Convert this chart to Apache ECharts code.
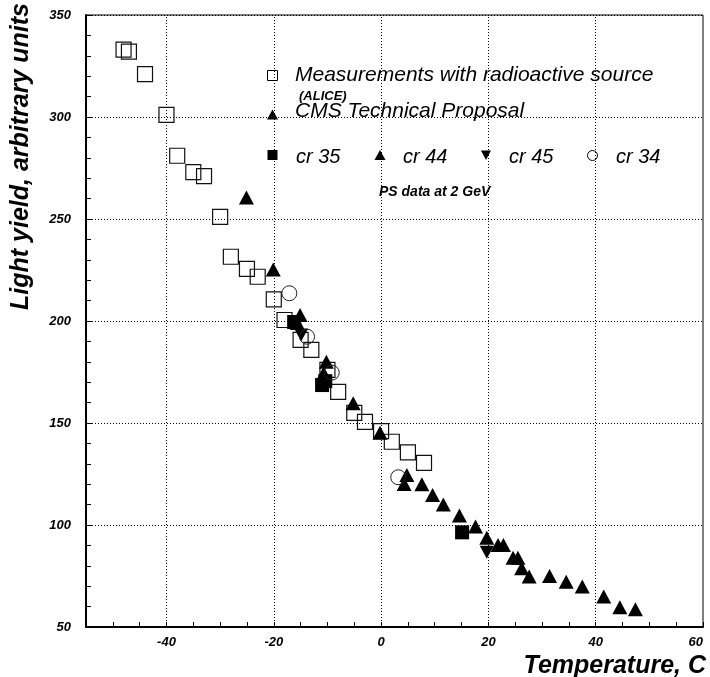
<!DOCTYPE html>
<html><head><meta charset="utf-8">
<script src="https://cdn.jsdelivr.net/npm/echarts@6/dist/echarts.min.js"></script>
<style>html,body{margin:0;padding:0;background:#fff}#c{width:710px;height:677px}</style>
</head><body><div id="c"></div>
<script>
// ---- data ----
const xTickLabels = [-40, -20, 0, 20, 40, 60];
const xGridValues = [-40, -20, 0, 20, 40];

// Measurements with radioactive source (ALICE) - open squares
const aliceX = [-48, -47, -44, -40, -38, -35, -33, -30, -28, -25, -23, -20, -18, -15, -13, -10, -8, -5, -3, 0, 2, 5, 8];
const aliceY = [333, 332, 321, 301, 281, 273, 271, 251, 231.5, 225.6, 221.7, 210.6, 200.5, 190.7, 185.8, 176, 165.3, 155, 150.6, 146, 140.8, 135.6, 130.5];

// CMS Technical Proposal - filled triangles
const cmsX = [-25.1, -20.1, -5.2, -0.2, 4.8, 7.6, 9.6, 11.6, 14.6, 17.6, 19.7, 21.8, 24.6, 27.6, 31.4, 34.5, 37.5, 41.5, 44.5, 47.4];
const cmsY = [260.6, 225.3, 159.7, 145.2, 124.5, 120, 114.7, 110.1, 104.6, 99.3, 93.8, 90.2, 84, 74.7, 75, 72.2, 69.8, 64.9, 59.7, 58.7];

// PS data at 2 GeV
const cr35X = [-16.2, -11, -10.4, 15.1];
const cr35Y = [199.5, 168.6, 170.5, 96.4];
const cr44X = [-15.1, -15.6, -10.2, -10.7, 4.3, 22.8, 25.5, 26.2];
const cr44Y = [202.9, 199, 180, 174.4, 120.1, 90.2, 84, 78.8];
const cr45X = [-14.9, 19.7];
const cr45Y = [193.1, 86.6];
const cr34X = [-17.1, -13.8, -9.2, 3.2];
const cr34Y = [213.6, 192.3, 174.7, 123.4];

const pairs = (xs, ys) => xs.map((x, i) => [x, ys[i]]);

const FF = '"Liberation Sans", Arial, Helvetica, sans-serif';
const chart = echarts.init(document.getElementById('c'), null, {renderer: 'canvas'});

const dotted = {color: '#000', width: 1, type: [1, 2]};

chart.setOption({
  animation: false,
  backgroundColor: '#fff',
  grid: {left: 86, right: 7, top: 15, bottom: 50, show: true, borderColor: '#000', borderWidth: 1, backgroundColor: 'transparent'},
  xAxis: {
    type: 'value', min: -55, max: 60, interval: 5,
    axisLine: {show: true, onZero: false, lineStyle: {color: '#000', width: 2}},
    axisTick: {show: true, inside: true, length: 5, lineStyle: {color: '#000', width: 1}},
    axisLabel: {
      formatter: v => (xTickLabels.includes(v) ? String(v) : ''),
      fontFamily: FF, fontWeight: 'bold', fontStyle: 'italic', fontSize: 13, color: '#000', margin: 9,
      showMinLabel: true, showMaxLabel: true, hideOverlap: false, alignMaxLabel: 'right'
    },
    splitLine: {show: false}
  },
  yAxis: {
    type: 'value', min: 50, max: 350, interval: 50,
    axisLine: {show: true, onZero: false, lineStyle: {color: '#000', width: 2}},
    axisTick: {show: true, inside: true, length: 7, lineStyle: {color: '#000', width: 1}},
    minorTick: {show: true, splitNumber: 5, length: 5, lineStyle: {color: '#000', width: 1}},
    axisLabel: {fontFamily: FF, fontWeight: 'bold', fontStyle: 'italic', fontSize: 13, color: '#000', margin: 15},
    splitLine: {show: true, lineStyle: dotted}
  },
  series: [
    {
      name: 'grid', type: 'scatter', data: [], silent: true, z: 1,
      markLine: {
        silent: true, symbol: 'none', label: {show: false},
        lineStyle: dotted, animation: false,
        data: xGridValues.map(v => ({xAxis: v}))
      }
    },
    {
      name: 'Measurements with radioactive source (ALICE)', type: 'scatter', symbol: 'rect', symbolSize: 15, z: 3,
      itemStyle: {color: 'rgba(0,0,0,0)', borderColor: '#111', borderWidth: 1.2, opacity: 1},
      data: pairs(aliceX, aliceY)
    },
    {
      name: 'CMS Technical Proposal', type: 'scatter', symbol: 'triangle', symbolSize: [15, 14], z: 4,
      itemStyle: {color: '#000', opacity: 1}, data: pairs(cmsX, cmsY)
    },
    {
      name: 'cr 35', type: 'scatter', symbol: 'rect', symbolSize: 14, z: 4,
      itemStyle: {color: '#000', opacity: 1}, data: pairs(cr35X, cr35Y)
    },
    {
      name: 'cr 44', type: 'scatter', symbol: 'triangle', symbolSize: [15, 14], z: 4,
      itemStyle: {color: '#000', opacity: 1}, data: pairs(cr44X, cr44Y)
    },
    {
      name: 'cr 45', type: 'scatter', symbol: 'triangle', symbolRotate: 180, symbolSize: [14, 13], z: 4,
      itemStyle: {color: '#000', opacity: 1}, data: pairs(cr45X, cr45Y)
    },
    {
      name: 'cr 34', type: 'scatter', symbol: 'circle', symbolSize: 15, z: 5,
      itemStyle: {color: 'rgba(0,0,0,0)', borderColor: '#222', borderWidth: 1, opacity: 1}, data: pairs(cr34X, cr34Y)
    }
  ],
  graphic: [
    // axis titles
    {type: 'text', x: 706, y: 666, style: {text: 'Temperature, C', fill: '#000', font: 'italic bold 25px ' + FF, align: 'right', verticalAlign: 'middle'}},
    {type: 'text', x: 21, y: 3, rotation: Math.PI / 2, style: {text: 'Light yield, arbitrary units', fill: '#000', font: 'italic bold 25px ' + FF, align: 'right', verticalAlign: 'middle'}},
    // legend
    {type: 'rect', shape: {x: 267.5, y: 70.5, width: 10, height: 10}, style: {fill: 'none', stroke: '#000', lineWidth: 1}},
    {type: 'text', x: 295, y: 75, style: {text: 'Measurements with radioactive source', fill: '#000', font: 'italic 21px ' + FF, align: 'left', verticalAlign: 'middle'}},
    {type: 'text', x: 299, y: 96, style: {text: '(ALICE)', fill: '#000', font: 'italic bold 13px ' + FF, align: 'left', verticalAlign: 'middle'}},
    {type: 'polygon', shape: {points: [[267, 119.5], [278, 119.5], [272.5, 109.5]]}, style: {fill: '#000'}},
    {type: 'text', x: 295, y: 111, style: {text: 'CMS Technical Proposal', fill: '#000', font: 'italic 21px ' + FF, align: 'left', verticalAlign: 'middle'}},
    {type: 'rect', shape: {x: 267.5, y: 150, width: 10, height: 10}, style: {fill: '#000'}},
    {type: 'text', x: 296, y: 157, style: {text: 'cr 35', fill: '#000', font: 'italic 20px ' + FF, align: 'left', verticalAlign: 'middle'}},
    {type: 'polygon', shape: {points: [[374.5, 160], [385.5, 160], [380, 150]]}, style: {fill: '#000'}},
    {type: 'text', x: 403, y: 157, style: {text: 'cr 44', fill: '#000', font: 'italic 20px ' + FF, align: 'left', verticalAlign: 'middle'}},
    {type: 'polygon', shape: {points: [[481, 150.5], [491, 150.5], [486, 160]]}, style: {fill: '#000'}},
    {type: 'text', x: 509, y: 157, style: {text: 'cr 45', fill: '#000', font: 'italic 20px ' + FF, align: 'left', verticalAlign: 'middle'}},
    {type: 'circle', shape: {cx: 592.5, cy: 155.5, r: 5}, style: {fill: 'none', stroke: '#000', lineWidth: 1}},
    {type: 'text', x: 616, y: 157, style: {text: 'cr 34', fill: '#000', font: 'italic 20px ' + FF, align: 'left', verticalAlign: 'middle'}},
    {type: 'text', x: 379, y: 192, style: {text: 'PS data at 2 GeV', fill: '#000', font: 'italic bold 14px ' + FF, align: 'left', verticalAlign: 'middle'}}
  ]
});
</script>
</body></html>
